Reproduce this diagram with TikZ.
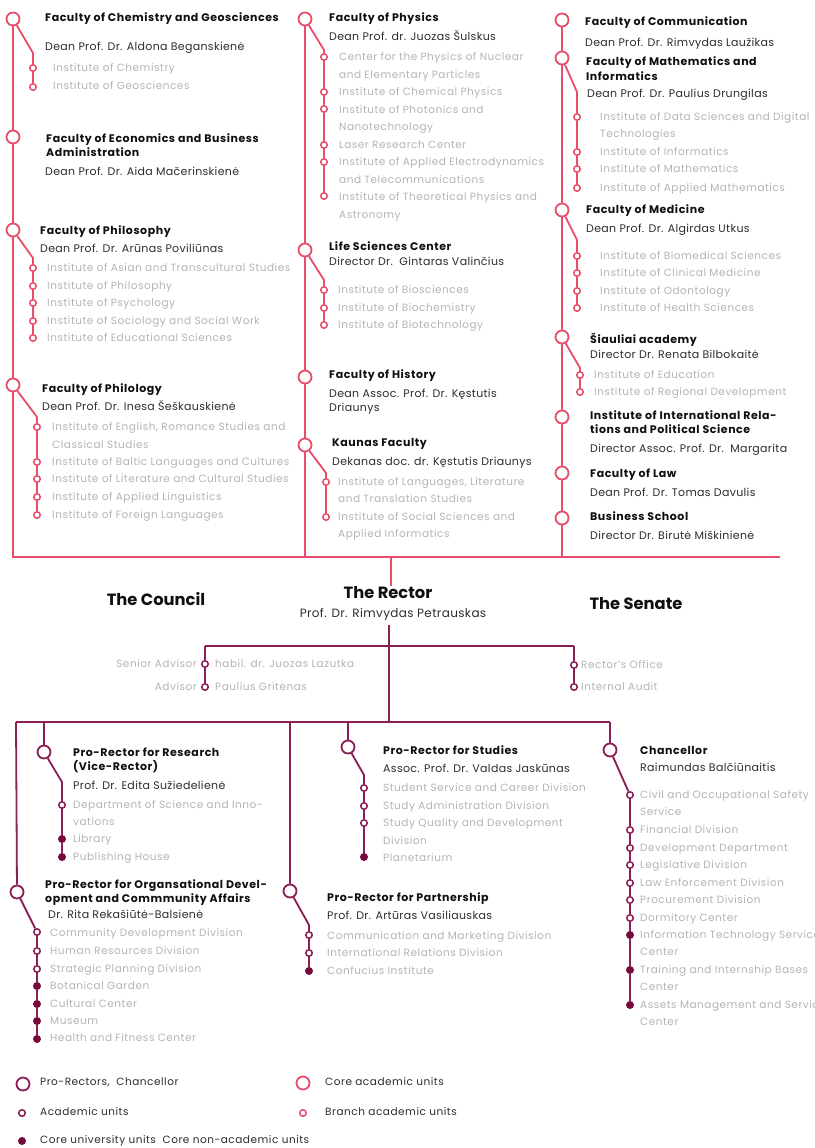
\documentclass[tikz,border=0pt]{standalone}
\usepackage{fontspec}
\setmainfont{Poppins}
\newfontfamily\hdfont[LetterSpace=5]{Poppins}
\newfontfamily\dnfont[LetterSpace=3]{Poppins}
\newfontfamily\itfont[LetterSpace=5]{Poppins}
\definecolor{pinkc}{RGB}{232,78,108}
\definecolor{marc}{RGB}{139,30,85}
\definecolor{dotc}{RGB}{118,10,60}
\definecolor{headc}{RGB}{15,15,15}
\definecolor{deanc}{RGB}{45,45,45}
\definecolor{itemc}{RGB}{180,180,180}
\newcounter{tn}
\newcommand\T[4]{\stepcounter{tn}\node[#1] (tx\arabic{tn}) at (#2,#3) {#4};}
\begin{document}
\begin{tikzpicture}[x=1pt,y=-1pt,
 pline/.style={draw=pinkc,line width=1.8pt},
 mline/.style={draw=marc,line width=1.8pt},
 bigP/.style={circle,draw=pinkc,fill=white,line width=1.8pt,minimum size=13pt,inner sep=0pt},
 smP/.style={circle,draw=pinkc,fill=white,line width=1.5pt,minimum size=6.5pt,inner sep=0pt},
 bigM/.style={circle,draw=marc,fill=white,line width=1.8pt,minimum size=13pt,inner sep=0pt},
 smM/.style={circle,draw=marc,fill=white,line width=1.5pt,minimum size=6.5pt,inner sep=0pt},
 dotM/.style={circle,fill=dotc,minimum size=8pt,inner sep=0pt},
 hd/.style={font=\hdfont\bfseries\fontsize{11}{12}\selectfont,text=headc,anchor=base west,inner sep=0pt,yshift=-4pt},
 dn/.style={font=\dnfont\fontsize{11}{12}\selectfont,text=deanc,anchor=base west,inner sep=0pt,yshift=-4pt},
 itm/.style={font=\itfont\fontsize{10.5}{12}\selectfont,text=itemc,anchor=base west,inner sep=0pt,yshift=-3.8pt},
 itmr/.style={font=\itfont\fontsize{10.5}{12}\selectfont,text=itemc,anchor=base east,inner sep=0pt,yshift=-3.8pt},
 lg/.style={font=\itfont\fontsize{10.5}{12}\selectfont,text=deanc,anchor=base west,inner sep=0pt,yshift=-3.8pt},
 bigt/.style={font=\bfseries\fontsize{16.3}{18}\selectfont,text=headc,anchor=base,inner sep=0pt,yshift=-5.5pt},
 rect/.style={font=\dnfont\fontsize{12}{14}\selectfont,text=deanc,anchor=base,inner sep=0pt,yshift=-4.2pt},
]
\useasboundingbox (0,0) rectangle (814,1148);
\clip (0,0) rectangle (814,1148);
\fill[white] (0,0) rectangle (814,1148);

% ================= TOP: academic units =================
% left column
\node[bigP] (PL1) at (13,19) {};
\node[bigP] (PL2) at (13,137) {};
\node[bigP] (PL3) at (13,230) {};
\node[bigP] (PL4) at (13,385) {};
\coordinate (bL1) at (33,53);
\node[smP] (sL1a) at (33,68) {};
\node[smP] (sL1b) at (33,87) {};
\coordinate (bL3) at (33,258);
\foreach \n/\y in {a/268,b/286,c/303,d/321,e/338} \node[smP] (sL3\n) at (33,\y) {};
\coordinate (bL4) at (37,417);
\foreach \n/\y in {a/427,b/462,c/479,d/497,e/515} \node[smP] (sL4\n) at (37,\y) {};

% middle column
\node[bigP] (PM1) at (305,19) {};
\node[bigP] (PM2) at (305,250) {};
\node[bigP] (PM3) at (305,377) {};
\node[bigP] (PM4) at (305,445) {};
\coordinate (bM1) at (324,50);
\foreach \n/\y in {a/57,b/92,c/109,d/145,e/162,f/196} \node[smP] (sM1\n) at (324,\y) {};
\coordinate (bM2) at (324,280);
\foreach \n/\y in {a/290,b/308,c/325} \node[smP] (sM2\n) at (324,\y) {};
\coordinate (bM4) at (326,473);
\foreach \n/\y in {a/482,b/517} \node[smP] (sM4\n) at (326,\y) {};

% right column
\node[bigP] (PR1) at (562,20) {};
\node[bigP] (PR2) at (562,58) {};
\node[bigP] (PR3) at (562,210) {};
\node[bigP] (PR4) at (562,337) {};
\node[bigP] (PR5) at (562,417) {};
\node[bigP] (PR6) at (562,473) {};
\node[bigP] (PR7) at (562,518) {};
\coordinate (bR2) at (577,92);
\foreach \n/\y in {a/117,b/152,c/169,d/188} \node[smP] (sR2\n) at (577,\y) {};
\coordinate (bR3) at (577,240);
\foreach \n/\y in {a/256,b/273,c/291,d/308} \node[smP] (sR3\n) at (577,\y) {};
\coordinate (bR4) at (580,368);
\foreach \n/\y in {a/375,b/392} \node[smP] (sR4\n) at (580,\y) {};

\coordinate (jL) at (13,557);
\coordinate (jM) at (305,557);
\coordinate (jR) at (562,557);
\coordinate (jE) at (780,557);
\coordinate (jC) at (391,557);
\coordinate (rs) at (391,586);

\draw[pline] (PL1) -- (PL2) -- (PL3) -- (PL4) -- (jL) -- (jE);
\draw[pline] (PM1) -- (PM2) -- (PM3) -- (PM4) -- (jM);
\draw[pline] (PR1) -- (PR2) -- (PR3) -- (PR4) -- (PR5) -- (PR6) -- (PR7) -- (jR);
\draw[pline] (jC) -- (rs);
\draw[pline] (PL1) -- (bL1) -- (sL1a) -- (sL1b);
\draw[pline] (PL3) -- (bL3) -- (sL3a) -- (sL3b) -- (sL3c) -- (sL3d) -- (sL3e);
\draw[pline] (PL4) -- (bL4) -- (sL4a) -- (sL4b) -- (sL4c) -- (sL4d) -- (sL4e);
\draw[pline] (PM1) -- (bM1) -- (sM1a) -- (sM1b) -- (sM1c) -- (sM1d) -- (sM1e) -- (sM1f);
\draw[pline] (PM2) -- (bM2) -- (sM2a) -- (sM2b) -- (sM2c);
\draw[pline] (PM4) -- (bM4) -- (sM4a) -- (sM4b);
\draw[pline] (PR2) -- (bR2) -- (sR2a) -- (sR2b) -- (sR2c) -- (sR2d);
\draw[pline] (PR3) -- (bR3) -- (sR3a) -- (sR3b) -- (sR3c) -- (sR3d);
\draw[pline] (PR4) -- (bR4) -- (sR4a) -- (sR4b);

% texts left
\T{hd}{45}{18}{Faculty of Chemistry and Geosciences}
\T{dn}{45}{47}{Dean Prof. Dr. Aldona Beganskienė}
\T{itm}{53}{68}{Institute of Chemistry}
\T{itm}{53}{86}{Institute of Geosciences}
\T{hd}{46}{138}{Faculty of Economics and Business}
\T{hd}{46}{152}{Administration}
\T{dn}{45}{171}{Dean Prof. Dr. Aida Mačerinskienė}
\T{hd}{40}{230}{Faculty of Philosophy}
\T{dn}{40}{248}{Dean Prof. Dr. Arūnas Poviliūnas}
\T{itm}{47}{268}{Institute of Asian and Transcultural Studies}
\T{itm}{47}{286}{Institute of Philosophy}
\T{itm}{47}{303}{Institute of Psychology}
\T{itm}{47}{321}{Institute of Sociology and Social Work}
\T{itm}{47}{338}{Institute of Educational Sciences}
\T{hd}{42}{388}{Faculty of Philology}
\T{dn}{42}{406}{Dean Prof. Dr. Inesa Šeškauskienė}
\T{itm}{52}{427}{Institute of English, Romance Studies and}
\T{itm}{52}{445}{Classical Studies}
\T{itm}{52}{462}{Institute of Baltic Languages and Cultures}
\T{itm}{52}{479}{Institute of Literature and Cultural Studies}
\T{itm}{52}{497}{Institute of Applied Linguistics}
\T{itm}{52}{515}{Institute of Foreign Languages}

% texts middle
\T{hd}{329}{18}{Faculty of Physics}
\T{dn}{329}{37}{Dean Prof. dr. Juozas Šulskus}
\T{itm}{339}{57}{Center for the Physics of Nuclear}
\T{itm}{339}{75}{and Elementary Particles}
\T{itm}{339}{92}{Institute of Chemical Physics}
\T{itm}{339}{110}{Institute of Photonics and}
\T{itm}{339}{127}{Nanotechnology}
\T{itm}{339}{145}{Laser Research Center}
\T{itm}{339}{162}{Institute of Applied Electrodynamics}
\T{itm}{339}{180}{and Telecommunications}
\T{itm}{339}{197}{Institute of Theoretical Physics and}
\T{itm}{339}{215}{Astronomy}
\T{hd}{329}{246}{Life Sciences Center}
\T{dn}{329}{261}{Director Dr.\ \ Gintaras Valinčius}
\T{itm}{338}{290}{Institute of Biosciences}
\T{itm}{338}{308}{Institute of Biochemistry}
\T{itm}{338}{325}{Institute of Biotechnology}
\T{hd}{329}{374}{Faculty of History}
\T{dn}{329}{393}{Dean Assoc. Prof. Dr. Kęstutis}
\T{dn}{329}{407}{Driaunys}
\T{hd}{332}{442}{Kaunas Faculty}
\T{dn}{332}{461}{Dekanas doc. dr. Kęstutis Driaunys}
\T{itm}{338}{482}{Institute of Languages, Literature}
\T{itm}{338}{499}{and Translation Studies}
\T{itm}{338}{517}{Institute of Social Sciences and}
\T{itm}{338}{534}{Applied Informatics}

% texts right
\T{hd}{585}{22}{Faculty of Communication}
\T{dn}{585}{43}{Dean Prof. Dr. Rimvydas Laužikas}
\T{hd}{586}{62}{Faculty of Mathematics and}
\T{hd}{586}{77}{Informatics}
\T{dn}{587}{93}{Dean Prof. Dr. Paulius Drungilas}
\T{itm}{600}{117}{Institute of Data Sciences and Digital}
\T{itm}{600}{134}{Technologies}
\T{itm}{600}{152}{Institute of Informatics}
\T{itm}{600}{169}{Institute of Mathematics}
\T{itm}{600}{188}{Institute of Applied Mathematics}
\T{hd}{586}{209}{Faculty of Medicine}
\T{dn}{586}{228}{Dean Prof. Dr. Algirdas Utkus}
\T{itm}{600}{256}{Institute of Biomedical Sciences}
\T{itm}{600}{273}{Institute of Clinical Medicine}
\T{itm}{600}{291}{Institute of Odontology}
\T{itm}{600}{308}{Institute of Health Sciences}
\T{hd}{590}{339}{Šiauliai academy}
\T{dn}{590}{354}{Director Dr. Renata Bilbokaitė}
\T{itm}{594}{375}{Institute of Education}
\T{itm}{594}{392}{Institute of Regional Development}
\T{hd}{590}{415}{Institute of International Rela-}
\T{hd}{590}{429}{tions and Political Science}
\T{dn}{590}{448}{Director Assoc. Prof. Dr.\ \ Margarita}
\T{hd}{590}{473}{Faculty of Law}
\T{dn}{590}{492}{Dean Prof. Dr. Tomas Davulis}
\T{hd}{590}{516}{Business School}
\T{dn}{590}{535}{Director Dr. Birutė Miškinienė}

% ================= MIDDLE: rector =================
\T{bigt}{156}{600}{The Council}
\T{bigt}{388}{593}{The Rector}
\T{rect}{393}{613}{Prof. Dr. Rimvydas Petrauskas}
\T{bigt}{636}{604}{The Senate}

\coordinate (rTop) at (389,625);
\coordinate (rBot) at (389,722);
\coordinate (aL) at (205,646);
\coordinate (aR) at (574,646);
\node[smM] (adv1) at (205,664) {};
\node[smM] (adv2) at (205,687) {};
\node[smM] (off1) at (574,665) {};
\node[smM] (off2) at (574,687) {};
\draw[mline] (aL) -- (aR);
\draw[mline] (rTop) -- (rBot);
\draw[mline] (aL) -- (adv1) -- (adv2);
\draw[mline] (aR) -- (off1) -- (off2);
\T{itmr}{197}{664}{Senior Advisor}
\T{itm}{215}{664}{habil. dr. Juozas Lazutka}
\T{itmr}{197}{687}{Advisor}
\T{itm}{215}{687}{Paulius Gritėnas}
\T{itm}{581}{665}{Rector’s Office}
\T{itm}{581}{687}{Internal Audit}

% ================= BOTTOM: pro-rectors =================
\coordinate (hL) at (16,722);
\coordinate (hR) at (610,722);
\coordinate (hRes) at (44,722);
\coordinate (hPar) at (290,722);
\coordinate (hStu) at (348,722);
\node[bigM] (PRorg) at (17,892) {};
\node[bigM] (PRres) at (44,752) {};
\node[bigM] (PRpar) at (290,891) {};
\node[bigM] (PRstu) at (348,747) {};
\node[bigM] (PRch) at (610,750) {};
\draw[mline] (hL) -- (hR);
\draw[mline] (hL) -- (PRorg);
\draw[mline] (hRes) -- (PRres);
\draw[mline] (hPar) -- (PRpar);
\draw[mline] (hStu) -- (PRstu);
\draw[mline] (hR) -- (PRch);

% research
\coordinate (bRes) at (62,782);
\node[smM] (res1) at (62,805) {};
\node[dotM] (res2) at (62,839) {};
\node[dotM] (res3) at (62,857) {};
\draw[mline] (PRres) -- (bRes) -- (res1) -- (res2) -- (res3);
\T{hd}{73}{752}{Pro-Rector for Research}
\T{hd}{73}{766}{(Vice-Rector)}
\T{dn}{73}{785}{Prof. Dr. Edita Sužiedelienė}
\T{itm}{73}{805}{Department of Science and Inno-}
\T{itm}{73}{822}{vations}
\T{itm}{73}{839}{Library}
\T{itm}{73}{857}{Publishing House}

% organisational
\foreach \n/\y in {1/932,2/951,3/969} \node[smM] (org\n) at (37,\y) {};
\foreach \n/\y in {4/986,5/1004,6/1021,7/1039} \node[dotM] (org\n) at (37,\y) {};
\draw[mline] (PRorg) -- (org1) -- (org2) -- (org3) -- (org4) -- (org5) -- (org6) -- (org7);
\T{hd}{45}{884}{Pro-Rector for Organsational Devel-}
\T{hd}{45}{898}{opment and Commmunity Affairs}
\T{dn}{48}{914}{Dr. Rita Rekašiūtė-Balsienė}
\T{itm}{50}{933}{Community Development Division}
\T{itm}{50}{951}{Human Resources Division}
\T{itm}{50}{969}{Strategic Planning Division}
\T{itm}{50}{986}{Botanical Garden}
\T{itm}{50}{1004}{Cultural Center}
\T{itm}{50}{1021}{Museum}
\T{itm}{50}{1038}{Health and Fitness Center}

% studies
\coordinate (bStu) at (364,775);
\foreach \n/\y in {1/788,2/806,3/823} \node[smM] (stu\n) at (364,\y) {};
\node[dotM] (stu4) at (364,857) {};
\draw[mline] (PRstu) -- (bStu) -- (stu1) -- (stu2) -- (stu3) -- (stu4);
\T{hd}{383}{750}{Pro-Rector for Studies}
\T{dn}{383}{768}{Assoc. Prof. Dr. Valdas Jaskūnas}
\T{itm}{383}{788}{Student Service and Career Division}
\T{itm}{383}{806}{Study Administration Division}
\T{itm}{383}{823}{Study Quality and Development}
\T{itm}{383}{841}{Division}
\T{itm}{383}{858}{Planetarium}

% partnership
\coordinate (bPar) at (309,925);
\node[smM] (par1) at (309,935) {};
\node[smM] (par2) at (309,953) {};
\node[dotM] (par3) at (309,971) {};
\draw[mline] (PRpar) -- (bPar) -- (par1) -- (par2) -- (par3);
\T{hd}{327}{897}{Pro-Rector for Partnership}
\T{dn}{327}{915}{Prof. Dr. Artūras Vasiliauskas}
\T{itm}{327}{936}{Communication and Marketing Division}
\T{itm}{327}{953}{International Relations Division}
\T{itm}{327}{971}{Confucius Institute}

% chancellor
\foreach \n/\y in {1/795,2/830,3/848,4/865,5/883,6/900,7/918} \node[smM] (ch\n) at (630,\y) {};
\foreach \n/\y in {8/935,9/970,10/1005} \node[dotM] (ch\n) at (630,\y) {};
\draw[mline] (PRch) -- (ch1) -- (ch2) -- (ch3) -- (ch4) -- (ch5) -- (ch6) -- (ch7) -- (ch8) -- (ch9) -- (ch10);
\T{hd}{640}{750}{Chancellor}
\T{dn}{640}{767}{Raimundas Balčiūnaitis}
\T{itm}{640}{795}{Civil and Occupational Safety}
\T{itm}{640}{812}{Service}
\T{itm}{640}{830}{Financial Division}
\T{itm}{640}{848}{Development Department}
\T{itm}{640}{865}{Legislative Division}
\T{itm}{640}{883}{Law Enforcement Division}
\T{itm}{640}{900}{Procurement Division}
\T{itm}{640}{918}{Dormitory Center}
\T{itm}{640}{935}{Information Technology Service}
\T{itm}{640}{952}{Center}
\T{itm}{640}{970}{Training and Internship Bases}
\T{itm}{640}{987}{Center}
\T{itm}{640}{1005}{Assets Management and Service}
\T{itm}{640}{1022}{Center}

% ================= LEGEND =================
\node[bigM] (lg1) at (23,1084) {};
\node[smM] (lg2) at (22,1113) {};
\node[dotM] (lg3) at (22,1141) {};
\node[bigP] (lg4) at (303,1083) {};
\node[smP] (lg5) at (303,1113) {};
\T{lg}{40}{1082}{Pro-Rectors,\ \ Chancellor}
\T{lg}{40}{1112}{Academic units}
\T{lg}{40}{1140}{Core university units\ \ Core non-academic units}
\T{lg}{325}{1082}{Core academic units}
\T{lg}{325}{1112}{Branch academic units}
\end{tikzpicture}
\end{document}
